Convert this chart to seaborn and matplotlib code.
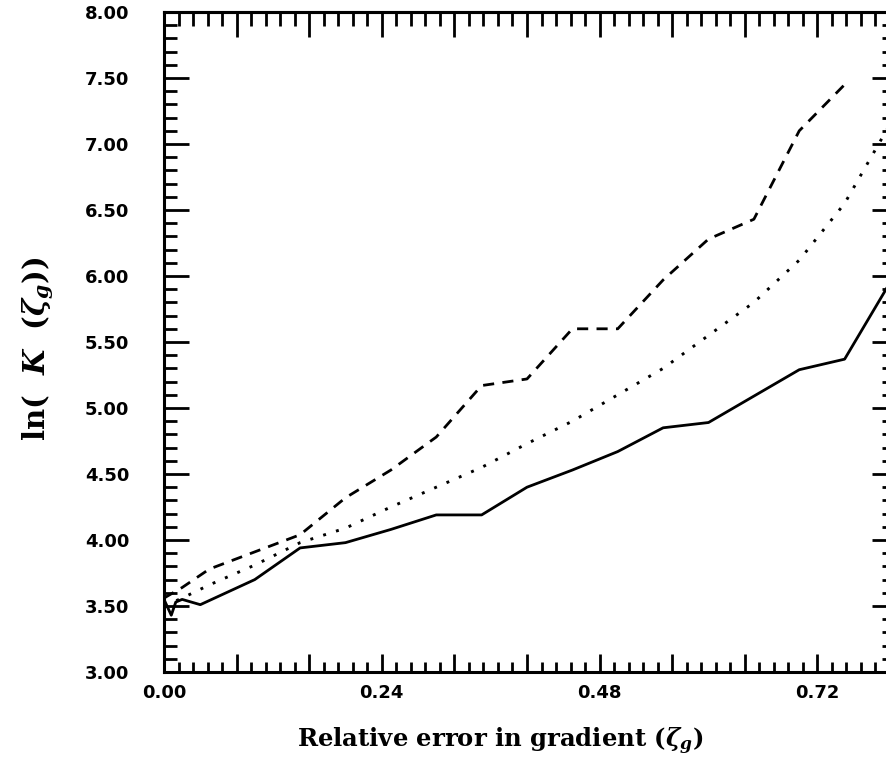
import numpy as np
import pandas as pd
import matplotlib
matplotlib.use("Agg")
import matplotlib.pyplot as plt
from matplotlib.ticker import MultipleLocator, FuncFormatter
import seaborn as sns

# ---- data ----
x_solid = [0.0, 0.008, 0.013, 0.02, 0.04, 0.10, 0.15, 0.20, 0.25, 0.30, 0.35,
           0.40, 0.45, 0.50, 0.55, 0.60, 0.65, 0.70, 0.75, 0.80]
y_solid = [3.55, 3.43, 3.53, 3.55, 3.51, 3.70, 3.94, 3.98, 4.08, 4.19, 4.19,
           4.40, 4.53, 4.67, 4.85, 4.89, 5.09, 5.29, 5.37, 5.95]

x_dashed = [0.0, 0.02, 0.05, 0.10, 0.15, 0.20, 0.25, 0.30, 0.35, 0.40, 0.45,
            0.50, 0.55, 0.60, 0.65, 0.70, 0.75]
y_dashed = [3.56, 3.64, 3.78, 3.91, 4.04, 4.32, 4.53, 4.78, 5.17, 5.22, 5.60,
            5.60, 5.97, 6.28, 6.43, 7.10, 7.45]

x_dotted = [0.0, 0.02, 0.05, 0.10, 0.15, 0.20, 0.25, 0.30, 0.35, 0.40, 0.45,
            0.50, 0.55, 0.60, 0.65, 0.70, 0.75, 0.80]
y_dotted = [3.50, 3.56, 3.66, 3.81, 3.98, 4.09, 4.25, 4.40, 4.55, 4.73, 4.90,
            5.10, 5.30, 5.55, 5.80, 6.12, 6.55, 7.15]

x_label_values = [0.00, 0.24, 0.48, 0.72]
xlabel_text = r"Relative error in gradient ($\zeta_g$)"
ylabel_text = r"ln(  $K$  ($\zeta_g$))"

# ---- style ----
sns.set_style("ticks")
plt.rcParams["font.family"] = ["DejaVu Sans"]
plt.rcParams["mathtext.fontset"] = "custom"
plt.rcParams["mathtext.rm"] = "DejaVu Serif:bold"
plt.rcParams["mathtext.it"] = "DejaVu Serif:italic:bold"
plt.rcParams["mathtext.bf"] = "DejaVu Serif:bold"
plt.rcParams["text.color"] = "black"
plt.rcParams["axes.labelcolor"] = "black"
plt.rcParams["xtick.color"] = "black"
plt.rcParams["ytick.color"] = "black"
plt.rcParams["axes.edgecolor"] = "black"

fig = plt.figure(figsize=(8.87, 7.76), dpi=100)
W, H = 887, 776
L, R, T, B = 164, 890, 12, 672
ax = fig.add_axes([L / W, 1 - B / H, (R - L) / W, (B - T) / H])

lw = 2.0
sns.lineplot(x=x_solid, y=y_solid, ax=ax, color="black", lw=lw,
             linestyle="-", sort=False, estimator=None)
sns.lineplot(x=x_dashed, y=y_dashed, ax=ax, color="black", lw=lw,
             linestyle=(0, (4.0, 3.0)), sort=False, estimator=None)
sns.lineplot(x=x_dotted, y=y_dotted, ax=ax, color="black", lw=lw * 1.05,
             linestyle=(0, (1.0, 3.6)), sort=False, estimator=None)

ax.set_xlim(0, 0.8)
ax.set_ylim(3.0, 8.0)

# x ticks: tall ticks every 0.08, labels every 0.24
def xfmt(v, p):
    k = round(v / 0.24)
    if abs(k * 0.24 - v) < 1e-6 and k >= 0:
        return f"{x_label_values[k]:.2f}" if k < len(x_label_values) else ""
    return ""

ax.xaxis.set_major_locator(MultipleLocator(0.08))
ax.xaxis.set_minor_locator(MultipleLocator(0.016))
ax.xaxis.set_major_formatter(FuncFormatter(xfmt))
ax.yaxis.set_major_locator(MultipleLocator(0.5))
ax.yaxis.set_minor_locator(MultipleLocator(0.1))
ax.yaxis.set_major_formatter(FuncFormatter(lambda v, p: f"{v:.2f}"))

ax.tick_params(axis="x", which="major", direction="in", length=13, width=2,
               top=False, pad=9)
ax.tick_params(axis="x", which="minor", direction="in", length=7, width=2,
               top=False)
ax.tick_params(axis="y", which="major", direction="in", length=18, width=2,
               right=False, pad=25)
ax.tick_params(axis="y", which="minor", direction="in", length=9, width=2,
               right=False)

for lab in ax.get_xticklabels() + ax.get_yticklabels():
    lab.set_fontweight("bold")
    lab.set_fontsize(13)
    lab.set_family("DejaVu Sans")

# top and right ticks with their own lengths
secx = ax.secondary_xaxis("top")
secx.xaxis.set_major_locator(MultipleLocator(0.08))
secx.xaxis.set_minor_locator(MultipleLocator(0.016))
secx.tick_params(which="major", direction="in", length=18, width=2, labeltop=False)
secx.tick_params(which="minor", direction="in", length=10, width=2)
secy = ax.secondary_yaxis("right")
secy.yaxis.set_major_locator(MultipleLocator(0.5))
secy.yaxis.set_minor_locator(MultipleLocator(0.1))
secy.tick_params(which="major", direction="in", length=13, width=2, labelright=False)
secy.tick_params(which="minor", direction="in", length=6, width=2)
for s in list(ax.spines.values()) + list(secx.spines.values()) + list(secy.spines.values()):
    s.set_linewidth(2.2)
    s.set_color("black")

ax.set_xlabel(xlabel_text, fontsize=17.5, fontweight="bold", family="DejaVu Serif")
ax.set_ylabel(ylabel_text, fontsize=21, fontweight="bold", family="DejaVu Serif")
ax.xaxis.set_label_coords((500 - L) / (R - L), (B - 726) / (B - T))
ax.yaxis.set_label_coords((56 - L) / (R - L), (B - 349) / (B - T))

fig.savefig("out.png", dpi=100)
